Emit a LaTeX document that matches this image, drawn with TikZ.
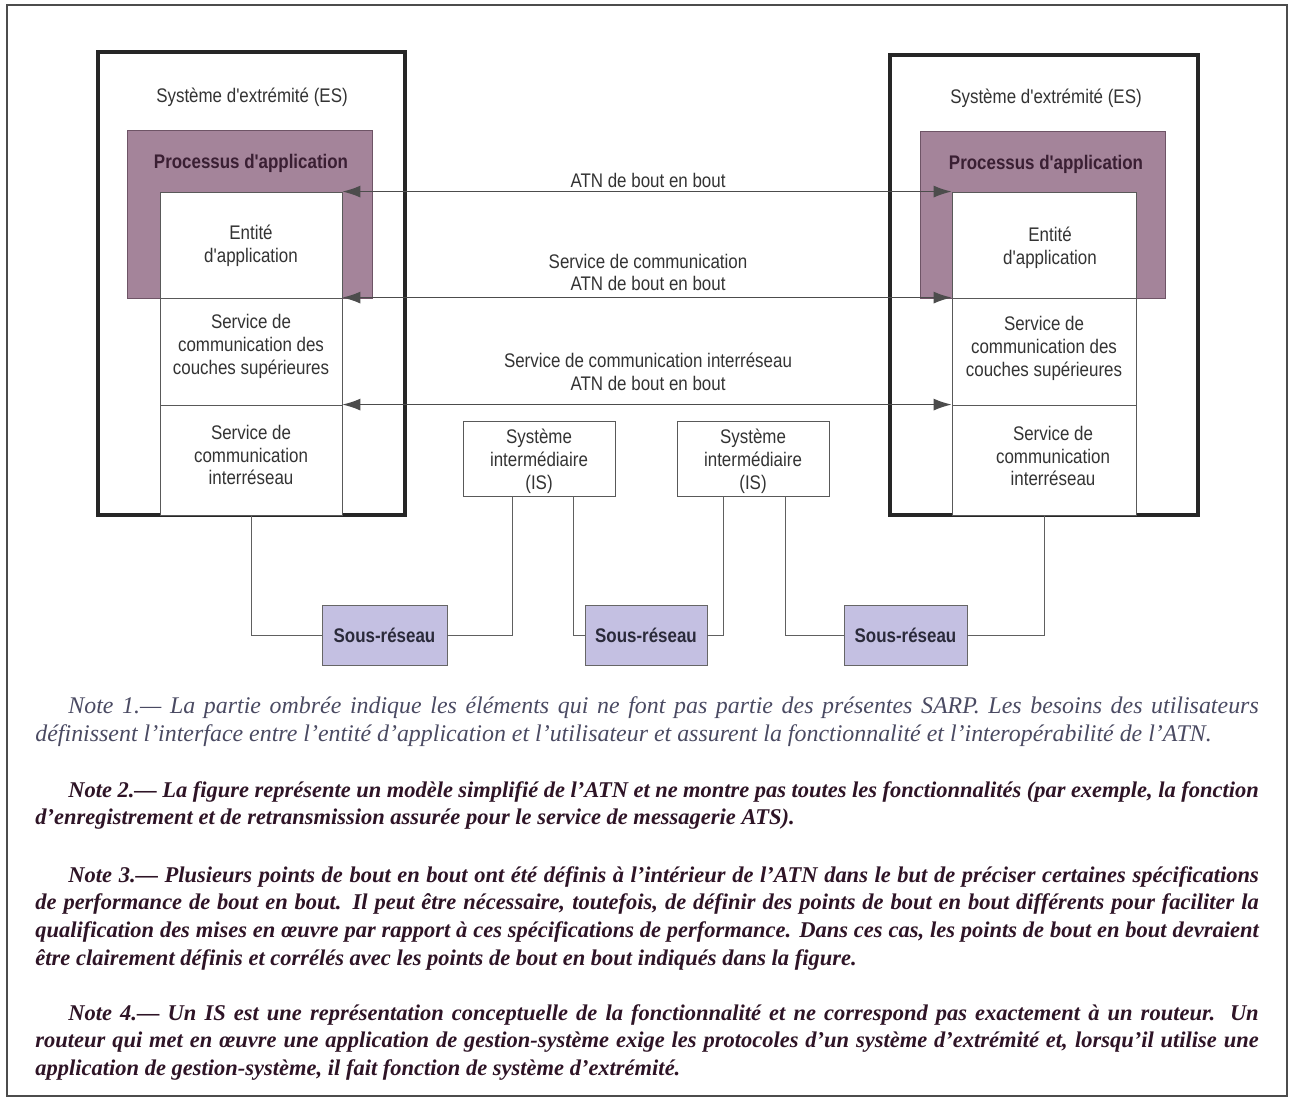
\documentclass[tikz,border=0pt]{standalone}
\usepackage{fontspec}
\setmainfont{Liberation Serif}
\newfontfamily\diagfont[FakeStretch=0.86]{Liberation Sans}
\usepackage{tikz}
\usetikzlibrary{fit,arrows.meta}
\definecolor{schrift}{HTML}{333333}
\definecolor{schatten}{HTML}{A4849A}
\definecolor{schattenrand}{HTML}{6E5466}
\definecolor{procschrift}{HTML}{3A1F33}
\definecolor{lila}{HTML}{C4C0E2}
\definecolor{subschrift}{HTML}{2A2A3A}
\definecolor{notegrau}{HTML}{4A4A62}
\definecolor{notedunkel}{HTML}{2E1426}

\begin{document}
\begin{tikzpicture}[x=0.025cm, y=-0.025cm, line width=0.6pt,
    txt/.style={font=\diagfont\fontsize{14}{16.3}\selectfont, text=schrift, align=center, inner sep=0pt},
    fett/.style={txt, font=\diagfont\bfseries\fontsize{14}{16.3}\selectfont},
    es/.style={draw=black!85, fill=white, line width=2.4pt, inner sep=0pt},
    proz/.style={draw=schattenrand, fill=schatten, inner sep=0pt},
    kasten/.style={draw=gray!70!black, fill=white, inner sep=0pt},
    sub/.style={draw=gray!80!black, fill=lila, inner sep=0pt},
    pfeil/.style={draw=black!70, line width=0.8pt, {Latex[length=0.45cm,width=0.3cm]}-{Latex[length=0.45cm,width=0.3cm]}},
    linie/.style={draw=gray!75!black, line width=0.6pt},
    note/.style={anchor=base west, inner sep=0pt, text width=30.575cm, align=justify}]

    \useasboundingbox (0,0) rectangle (1292,1097);
    % Rahmen.
    \draw[draw=gray!60!black, line width=0.8pt] (7,5) rectangle (1287,1096);

    % Linkes Endsystem.
    \node[es, fit={(98,52) (405,515)}] (esL) {};
    \node[proz, fit={(127,130) (372,298)}] (procL) {};
    \node[kasten, fit={(160,192) (342,298)}] (aeL) {};
    \node[kasten, fit={(160,298) (342,405)}] (hlL) {};
    \node[kasten, fit={(160,405) (342,515)}] (ipsL) {};
    \node[txt] (esLtitel) at (252,97) {Système d'extrémité (ES)};
    \node[fett, text=procschrift] (procLtitel) at (251,163) {Processus d'application};
    \node[txt] (aeLtext) at (251,246) {Entité\\d'application};
    \node[txt] (hlLtext) at (251,346) {Service de\\communication des\\couches supérieures};
    \node[txt] (ipsLtext) at (251,455) {Service de\\communication\\interréseau};

    % Rechtes Endsystem.
    \node[es, fit={(890,55) (1198,515)}] (esR) {};
    \node[proz, fit={(920,131) (1165,298)}] (procR) {};
    \node[kasten, fit={(952,192) (1136,298)}] (aeR) {};
    \node[kasten, fit={(952,298) (1136,405)}] (hlR) {};
    \node[kasten, fit={(952,405) (1136,515)}] (ipsR) {};
    \node[txt] (esRtitel) at (1046,98) {Système d'extrémité (ES)};
    \node[fett, text=procschrift] (procRtitel) at (1046,164) {Processus d'application};
    \node[txt] (aeRtext) at (1050,248) {Entité\\d'application};
    \node[txt] (hlRtext) at (1044,348) {Service de\\communication des\\couches supérieures};
    \node[txt] (ipsRtext) at (1053,456) {Service de\\communication\\interréseau};

    % Verbindungen von Ende zu Ende.
    \draw[pfeil] (aeL.north east) -- (aeR.north west);
    \draw[pfeil] (hlL.north east) -- (hlR.north west);
    \draw[pfeil] (ipsL.north east) -- (ipsR.north west);
    \node[txt] (atn1) at (648,180) {ATN de bout en bout};
    \node[txt] (atn2) at (648,272.5) {Service de communication\\ATN de bout en bout};
    \node[txt] (atn3) at (648,372) {Service de communication interréseau\\ATN de bout en bout};

    % Zwischensysteme.
    \node[kasten, fit={(463,421) (615,496)}] (is1) {};
    \node[kasten, fit={(677,421) (829,496)}] (is2) {};
    \node[txt] (is1text) at (539,461.5) {Système\\intermédiaire\\(IS)};
    \node[txt] (is2text) at (753,461.5) {Système\\intermédiaire\\(IS)};
    \coordinate (is1l) at (512,496);
    \coordinate (is1r) at (573,496);
    \coordinate (is2l) at (723,496);
    \coordinate (is2r) at (785,496);

    % Teilnetze.
    \node[sub, fit={(322,605) (447,665)}] (sr1) {};
    \node[sub, fit={(585,605) (707,665)}] (sr2) {};
    \node[sub, fit={(844,605) (967,665)}] (sr3) {};
    \foreach \s in {sr1,sr2,sr3}
    {
        \node[fett, text=subschrift] (\s text) at (\s) {Sous-réseau};
    }

    % Leitungen.
    \draw[linie] (ipsL.south) |- (sr1.west);
    \draw[linie] (sr1.east) -| (is1l);
    \draw[linie] (is1r) |- (sr2.west);
    \draw[linie] (sr2.east) -| (is2l);
    \draw[linie] (is2r) |- (sr3.west);
    \draw[linie] (sr3.east) -| (ipsR.south);

    % Anmerkungen.
    \node[note, font=\fontsize{17}{20.6}\selectfont\itshape, text=notegrau] (note1) at (35,713)
        {\hspace*{0.825cm}Note 1.— La partie ombrée indique les éléments qui ne font pas partie des présentes SARP. Les besoins des utilisateurs\linebreak
        définissent l'interface entre l'entité d'application et l'utilisateur et assurent la fonctionnalité et l'interopérabilité de l'ATN.};
    \node[note, font=\fontsize{16}{19.9}\selectfont\bfseries\itshape, text=notedunkel] (note2) at (35,797)
        {\hspace*{0.825cm}Note 2.— La figure représente un modèle simplifié de l'ATN et ne montre pas toutes les fonctionnalités (par exemple, la fonction\linebreak
        d'enregistrement et de retransmission assurée pour le service de messagerie ATS).};
    \node[note, font=\fontsize{16}{19.9}\selectfont\bfseries\itshape, text=notedunkel] (note3) at (35,882)
        {\hspace*{0.825cm}Note 3.— Plusieurs points de bout en bout ont été définis à l'intérieur de l'ATN dans le but de préciser certaines spécifications\linebreak
        de performance de bout en bout. Il peut être nécessaire, toutefois, de définir des points de bout en bout différents pour faciliter la\linebreak
        qualification des mises en œuvre par rapport à ces spécifications de performance. Dans ces cas, les points de bout en bout devraient\linebreak
        être clairement définis et corrélés avec les points de bout en bout indiqués dans la figure.};
    \node[note, font=\fontsize{16}{19.9}\selectfont\bfseries\itshape, text=notedunkel] (note4) at (35,1020)
        {\hspace*{0.825cm}Note 4.— Un IS est une représentation conceptuelle de la fonctionnalité et ne correspond pas exactement à un routeur. Un\linebreak
        routeur qui met en œuvre une application de gestion-système exige les protocoles d'un système d'extrémité et, lorsqu'il utilise une\linebreak
        application de gestion-système, il fait fonction de système d'extrémité.};
\end{tikzpicture}
\end{document}
